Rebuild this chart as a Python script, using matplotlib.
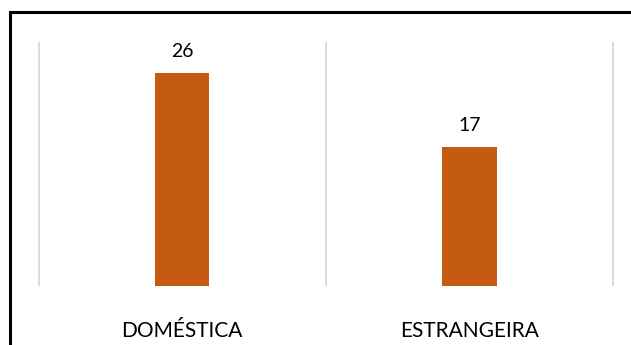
import matplotlib
matplotlib.use("Agg")
import matplotlib.pyplot as plt
from matplotlib.patches import Rectangle

categories = ["DOMÉSTICA", "ESTRANGEIRA"]
values = [26, 17]

W, H = 631, 345
fig = plt.figure(figsize=(W/100, H/100), dpi=100)
plt.rcParams['font.family'] = ['Lato', 'DejaVu Sans']

# outer border (top and left visible, rest runs off the image)
fig.add_artist(Rectangle((10/W, -0.2), 1.2, (H-12)/H + 0.2, transform=fig.transFigure,
                         fill=False, edgecolor='black', linewidth=2.2))

ax = fig.add_axes([38.5/W, (H-286)/H, (613-38.5)/W, (286-42)/H])
x = list(range(len(categories)))
ax.bar(x, values, width=0.19, color='#C55A11', zorder=3)
ax.set_xlim(-0.5, len(categories)-0.5)
ax.set_ylim(0, 29.8)
ax.vlines([i - 0.5 for i in range(len(categories)+1)], 0, 29.8, colors='#D9D9D9',
          linewidth=1.3, clip_on=False, zorder=1)
for s in ax.spines.values():
    s.set_visible(False)
ax.set_yticks([])
ax.set_xticks(x)
ax.set_xticklabels(categories, fontsize=15, color='black')
ax.tick_params(axis='x', length=0, pad=25)
for xi, v in zip(x, values):
    ax.annotate(str(v), (xi, v), xytext=(0, 11.5), textcoords='offset points',
                ha='center', va='baseline', fontsize=14, color='black')

fig.savefig('out.png', dpi=100, facecolor='white')
